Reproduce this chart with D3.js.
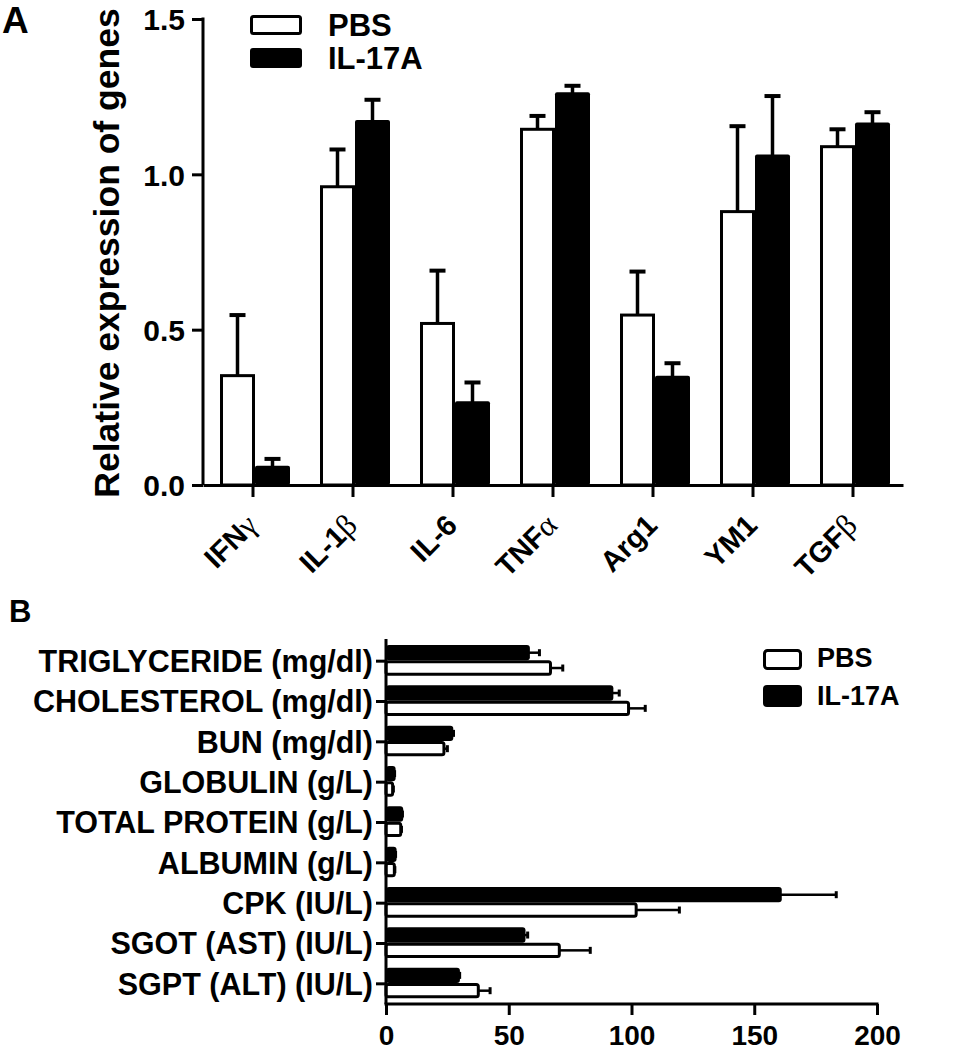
<!DOCTYPE html>
<html>
<head>
<meta charset="utf-8">
<script src="https://cdn.jsdelivr.net/npm/d3@7"></script>
<style>
  html, body { margin: 0; padding: 0; background: #fff; }
  svg text { font-family: "Liberation Sans", Arial, sans-serif; font-weight: bold; fill: #000; }
</style>
</head>
<body>
<svg id="chart" width="961" height="1050"></svg>
<script>
// ---------- Panel A data ----------
const genes = ["IFN", "IL-1", "IL-6", "TNF", "Arg1", "YM1", "TGF"];
const geneGreek = ["γ", "β", "", "α", "", "", "β"];
const pbsA = [0.352, 0.96, 0.52, 1.145, 0.547, 0.88, 1.089];
const pbsAErr = [0.195, 0.12, 0.17, 0.043, 0.14, 0.275, 0.056];
const il17A = [0.057, 1.17, 0.265, 1.259, 0.347, 1.059, 1.162];
const il17AErr = [0.027, 0.07, 0.065, 0.026, 0.045, 0.193, 0.038];
const yTicksA = [0, 0.5, 1.0, 1.5];

// ---------- Panel B data ----------
const params = ["TRIGLYCERIDE (mg/dl)", "CHOLESTEROL (mg/dl)", "BUN (mg/dl)", "GLOBULIN (g/L)",
  "TOTAL PROTEIN (g/L)", "ALBUMIN (g/L)", "CPK (IU/L)", "SGOT (AST) (IU/L)", "SGPT (ALT) (IU/L)"];
const pbsB = [67, 98.8, 23.6, 2.7, 6, 3.4, 101.9, 70.6, 37.6];
const pbsBErr = [5, 6.8, 1.4, 0.3, 0.3, 0.2, 17.6, 12.6, 4.8];
const il17B = [58, 92, 26.8, 3.3, 6.4, 3.7, 160.6, 56.2, 29.5];
const il17BErr = [4.5, 3, 0.7, 0.2, 0.3, 0.2, 22.8, 1.5, 0.5];
const xTicksB = [0, 50, 100, 150, 200];

const groups = ["PBS", "IL-17A"];

const svg = d3.select("#chart");
const SW = 3;

// ================= PANEL A =================
const xA = d3.scaleBand().domain(genes).range([203, 903]).padding(0);
const yA = d3.scaleLinear().domain([0, 1.5]).range([485, 19]);
const innerA = d3.scaleBand().domain(groups).range([xA.bandwidth() * 0.17, xA.bandwidth() * 0.87]);

const gA = svg.append("g");
const rowsA = genes.map((g, i) => ({g, i}));

rowsA.forEach(({g, i}) => {
  const vals = [
    {grp: "PBS", v: pbsA[i], e: pbsAErr[i]},
    {grp: "IL-17A", v: il17A[i], e: il17AErr[i]}
  ];
  vals.forEach(d => {
    const x0 = xA(g) + innerA(d.grp);
    const w = innerA.bandwidth();
    const cx = x0 + w / 2;
    const top = yA(d.v + d.e);
    gA.append("line").attr("x1", cx).attr("x2", cx).attr("y1", yA(d.v)).attr("y2", top)
      .attr("stroke", "#000").attr("stroke-width", 3.5);
    gA.append("line").attr("x1", cx - 8).attr("x2", cx + 8).attr("y1", top).attr("y2", top)
      .attr("stroke", "#000").attr("stroke-width", 4);
    if (d.grp === "PBS") {
      gA.append("rect").attr("x", x0 + SW / 2).attr("y", yA(d.v))
        .attr("width", w - SW).attr("height", yA(0) - yA(d.v))
        .attr("fill", "#fff").attr("stroke", "#000").attr("stroke-width", SW);
    } else {
      gA.append("rect").attr("x", x0).attr("y", yA(d.v) - SW / 2)
        .attr("width", w).attr("height", yA(0) - yA(d.v) + SW / 2)
        .attr("rx", 2).attr("fill", "#000");
    }
  });
});

// y axis A
const yAxA = gA.append("g").attr("transform", "translate(203,0)")
  .call(d3.axisLeft(yA).tickValues(yTicksA).tickFormat(d3.format(".1f")).tickSize(11).tickSizeOuter(0).tickPadding(7));
yAxA.selectAll("path, line").attr("stroke", "#000").attr("stroke-width", SW);
yAxA.selectAll("text").attr("font-size", 30).attr("dy", "0.36em");
yAxA.select(".domain").attr("d", `M0,${yA(1.5) - 1.5}V${yA(0)}`);

// x axis A
const xAxA = gA.append("g").attr("transform", `translate(0,${yA(0)})`)
  .call(d3.axisBottom(xA).tickSize(12).tickSizeOuter(0).tickFormat(""));
xAxA.selectAll("path, line").attr("stroke", "#000").attr("stroke-width", SW);

// rotated x labels
rowsA.forEach(({g, i}) => {
  const cx = xA(g) + xA.bandwidth() / 2;
  const t = gA.append("text")
    .attr("transform", `translate(${cx + 6},${527}) rotate(-45)`)
    .attr("text-anchor", "end").attr("font-size", 29);
  t.append("tspan").text(g);
  if (geneGreek[i]) {
    t.append("tspan").text(geneGreek[i])
      .style("font-family", "'Liberation Serif', 'DejaVu Serif', serif")
      .style("font-weight", "normal").attr("font-size", 31);
  }
});

// y label A
gA.append("text").attr("transform", "translate(119,253) rotate(-90)")
  .attr("text-anchor", "middle").attr("font-size", 35.5).text("Relative expression of genes");

// legend A
const legA = [{grp: "PBS", y: 15, ty: 36}, {grp: "IL-17A", y: 48, ty: 69}];
legA.forEach(d => {
  if (d.grp === "PBS") {
    gA.append("rect").attr("x", 251.5).attr("y", d.y + 1.5).attr("width", 49).attr("height", 17)
      .attr("rx", 2).attr("fill", "#fff").attr("stroke", "#000").attr("stroke-width", SW);
  } else {
    gA.append("rect").attr("x", 250).attr("y", d.y).attr("width", 52).attr("height", 20)
      .attr("rx", 3).attr("fill", "#000");
  }
  gA.append("text").attr("x", 328).attr("y", d.ty).attr("font-size", 31).text(d.grp);
});

// panel letter A
svg.append("text").attr("x", 2).attr("y", 33).attr("font-size", 37).text("A");

// ================= PANEL B =================
const yB = d3.scaleBand().domain(params).range([641, 1004]).padding(0);
const xB = d3.scaleLinear().domain([0, 200]).range([386, 877]);
const innerB = d3.scaleBand().domain(["IL-17A", "PBS"]).range([yB.bandwidth() * 0.1, yB.bandwidth() * 0.86]);

const gB = svg.append("g");

params.forEach((p, i) => {
  const vals = [
    {grp: "IL-17A", v: il17B[i], e: il17BErr[i]},
    {grp: "PBS", v: pbsB[i], e: pbsBErr[i]}
  ];
  vals.forEach(d => {
    const y0 = yB(p) + innerB(d.grp);
    const h = innerB.bandwidth();
    const cy = y0 + h / 2;
    const end = xB(d.v + d.e);
    gB.append("line").attr("x1", xB(d.v)).attr("x2", end).attr("y1", cy).attr("y2", cy)
      .attr("stroke", "#000").attr("stroke-width", 2.5);
    gB.append("line").attr("x1", end).attr("x2", end).attr("y1", cy - 3.5).attr("y2", cy + 3.5)
      .attr("stroke", "#000").attr("stroke-width", 3);
    if (d.grp === "PBS") {
      gB.append("rect").attr("x", xB(0)).attr("y", y0 + SW / 2)
        .attr("width", xB(d.v) - xB(0)).attr("height", h - SW)
        .attr("rx", 2).attr("fill", "#fff").attr("stroke", "#000").attr("stroke-width", SW);
    } else {
      gB.append("rect").attr("x", xB(0)).attr("y", y0)
        .attr("width", xB(d.v) - xB(0) + SW / 2).attr("height", h)
        .attr("rx", 3).attr("fill", "#000");
    }
  });
});

// y axis B
const yAxB = gB.append("g").attr("transform", `translate(${xB(0)},0)`)
  .call(d3.axisLeft(yB).tickSize(10).tickSizeOuter(0).tickPadding(3));
yAxB.selectAll("path, line").attr("stroke", "#000").attr("stroke-width", SW);
yAxB.selectAll("text").attr("font-size", 30.5).attr("dy", "0.36em");
yAxB.select(".domain").attr("d", `M0,639V${1004}`);

// x axis B
const xAxB = gB.append("g").attr("transform", "translate(0,1004)")
  .call(d3.axisBottom(xB).tickValues(xTicksB).tickFormat(d3.format("d")).tickSize(11).tickSizeOuter(0).tickPadding(10));
xAxB.selectAll("path, line").attr("stroke", "#000").attr("stroke-width", SW);
xAxB.selectAll("text").attr("font-size", 28).attr("dy", "0.71em");
xAxB.select(".domain").attr("d", `M${xB(0) - 1.5},0H${xB(200) + 1.5}`);

// legend B
const legB = [{grp: "PBS", y: 649, ty: 667}, {grp: "IL-17A", y: 685, ty: 705}];
legB.forEach(d => {
  if (d.grp === "PBS") {
    gB.append("rect").attr("x", 764.5).attr("y", d.y + 1.5).attr("width", 36).attr("height", 18)
      .attr("rx", 3).attr("fill", "#fff").attr("stroke", "#000").attr("stroke-width", SW);
  } else {
    gB.append("rect").attr("x", 763).attr("y", d.y).attr("width", 39).attr("height", 22)
      .attr("rx", 4).attr("fill", "#000");
  }
  gB.append("text").attr("x", 817).attr("y", d.ty).attr("font-size", 27).text(d.grp);
});

// panel letter B
svg.append("text").attr("x", 9).attr("y", 622).attr("font-size", 31).text("B");
</script>
</body>
</html>
